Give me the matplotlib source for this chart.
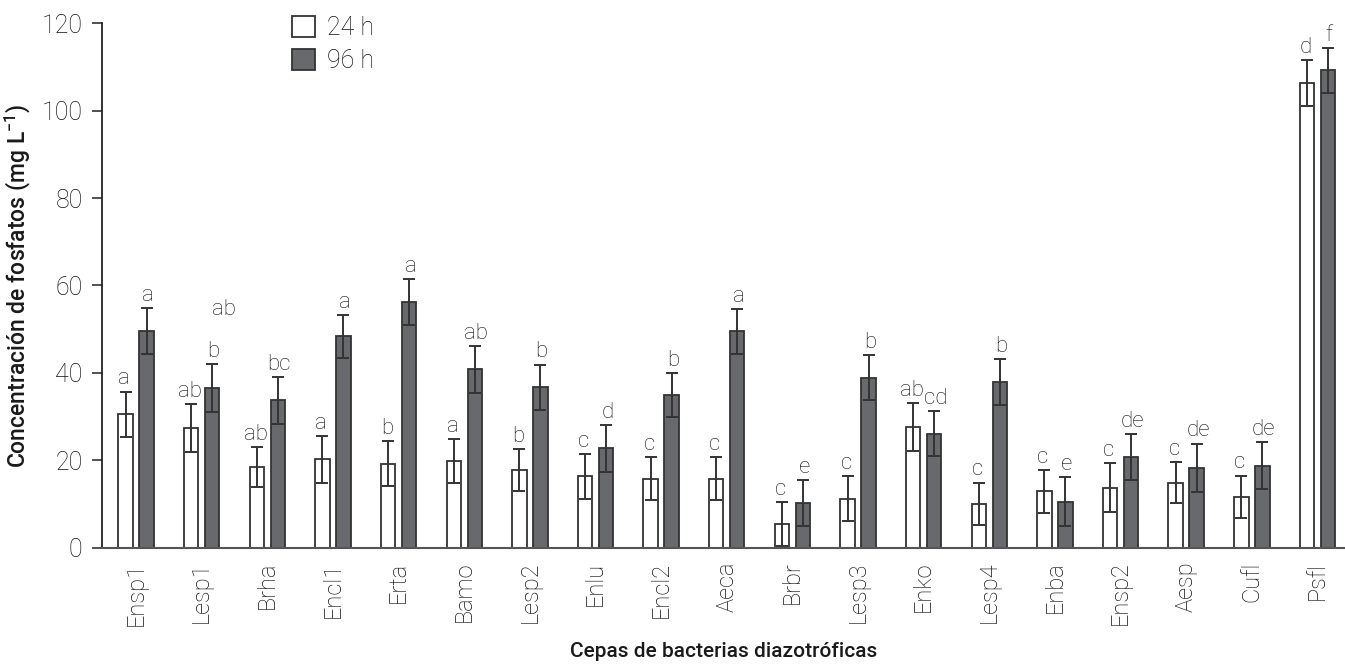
import matplotlib
matplotlib.use("Agg")
import matplotlib.pyplot as plt
from matplotlib.patches import Patch
import numpy as np

categories = ["Ensp1", "Lesp1", "Brha", "Encl1", "Erta", "Bamo", "Lesp2", "Enlu", "Encl2",
              "Aeca", "Brbr", "Lesp3", "Enko", "Lesp4", "Enba", "Ensp2", "Aesp", "Cufl", "Psfl"]
vals_24 = [30.5, 27.4, 18.4, 20.2, 19.2, 19.8, 17.7, 16.3, 15.8, 15.8, 5.4, 11.2, 27.6, 10.0,
           12.9, 13.7, 14.9, 11.7, 106.3]
err_24 = [5.2, 5.5, 4.6, 5.3, 5.2, 5.1, 4.8, 5.2, 5.0, 5.0, 5.1, 5.1, 5.5, 4.9, 4.9, 5.6, 4.7,
          4.8, 5.3]
vals_96 = [49.6, 36.6, 33.7, 48.4, 56.2, 40.8, 36.7, 22.7, 35.0, 49.5, 10.2, 38.9, 26.1, 37.9,
           10.5, 20.8, 18.3, 18.8, 109.2]
err_96 = [5.2, 5.5, 5.3, 4.9, 5.2, 5.4, 5.2, 5.3, 5.0, 5.1, 5.3, 5.2, 5.2, 5.3, 5.6, 5.2, 5.5,
          5.3, 5.2]
letters_24 = ["a", "ab", "ab", "a", "b", "a", "b", "c", "c", "c", "c", "c", "ab", "c", "c", "c",
              "c", "c", "d"]
letters_96 = ["a", "b", "bc", "a", "a", "ab", "b", "d", "b", "a", "e", "b", "cd", "b", "e", "de",
              "de", "de", "f"]
extra_letter = "ab"
extra_letter_pos = (1.34, 52.0)
yticks = [0, 20, 40, 60, 80, 100, 120]

plt.rcParams["font.family"] = ["Roboto", "DejaVu Sans"]

fig = plt.figure(figsize=(13.45, 6.64), dpi=100)
ax = fig.add_axes([0.0758, 0.1752, 0.9242, 0.7897])

x = np.arange(len(categories))
w = 0.22
off = 0.16
edge = "#333333"
dark = "#68696d"
txt = "#111111"

ekw = dict(ecolor=edge, elinewidth=1.4, capsize=4, capthick=1.4)
ax.bar(x - off, vals_24, w, color="white", edgecolor=edge, linewidth=1.3,
       yerr=err_24, error_kw=ekw, zorder=2)
ax.bar(x + off, vals_96, w, color=dark, edgecolor=edge, linewidth=1.3,
       yerr=err_96, error_kw=ekw, zorder=2)

tkw = dict(ha="center", va="bottom", fontsize=16, color=txt, fontweight="light")
for i in range(len(categories)):
    ax.text(x[i] - off - 0.02, vals_24[i] + err_24[i] + 0.5, letters_24[i], **tkw)
    ax.text(x[i] + off + 0.02, vals_96[i] + err_96[i] + 0.5, letters_96[i], **tkw)
ax.text(extra_letter_pos[0], extra_letter_pos[1], extra_letter, **tkw)

ax.set_xlim(-0.52, 18.42)
ax.set_ylim(0, 120)
ax.set_yticks(yticks)
ax.set_yticklabels([str(t) for t in yticks], fontsize=18, color=txt, fontweight="light")
ax.set_xticks(x)
ax.set_xticklabels(categories, rotation=90, fontsize=17, color=txt, fontweight="light")
ax.tick_params(axis="x", length=0, pad=10)
ax.tick_params(axis="y", length=7, width=1.2, color="#333333", pad=7)

for s in ["top", "right"]:
    ax.spines[s].set_visible(False)
ax.spines["left"].set_color("#222222")
ax.spines["left"].set_linewidth(1.3)
ax.spines["bottom"].set_color("#555555")
ax.spines["bottom"].set_linewidth(1.5)

ax.set_ylabel("Concentración de fosfatos (mg L$^{\\mathregular{-1}}$)", fontsize=16.5,
              fontweight="medium", color="#1a1a1a", labelpad=6)
ax.set_xlabel("Cepas de bacterias diazotróficas", fontsize=15, fontweight="medium",
              color="#1a1a1a", labelpad=12)

handles = [Patch(facecolor="white", edgecolor=edge, linewidth=1.3, label="24 h"),
           Patch(facecolor=dark, edgecolor=edge, linewidth=1.3, label="96 h")]
leg = ax.legend(handles=handles, loc="upper left", bbox_to_anchor=(292 / 1345, 1 - 16 / 664),
                bbox_transform=fig.transFigure, frameon=False, fontsize=18,
                handlelength=0.9, handleheight=0.9, handletextpad=0.5, labelspacing=0.35,
                borderpad=0, borderaxespad=0)
for t in leg.get_texts():
    t.set_color(txt)
    t.set_fontweight("light")

fig.savefig("out.png", dpi=100)
